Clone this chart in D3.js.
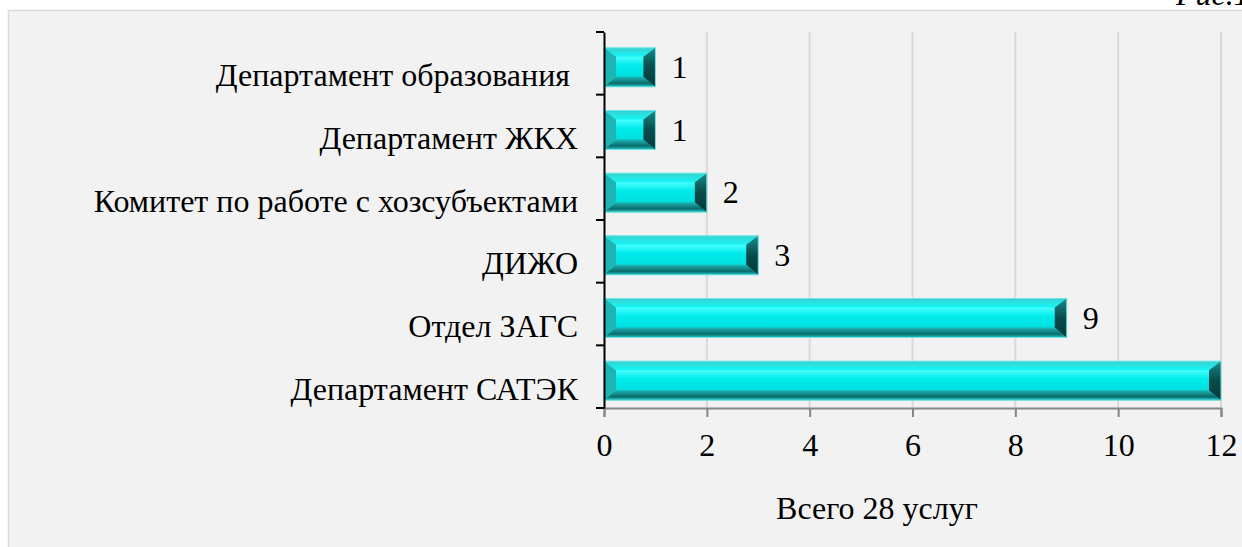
<!DOCTYPE html>
<html>
<head>
<meta charset="utf-8">
<script src="https://cdn.jsdelivr.net/npm/d3@7"></script>
<style>
  html, body { margin: 0; padding: 0; background: #fff; }
</style>
</head>
<body>
<svg width="1242" height="547"></svg>
<script>
// Chart data (top to bottom as drawn)
const departments = [
    "Департамент образования ",
    "Департамент ЖКХ",
    "Комитет по работе с хозсубъектами",
    "ДИЖО",
    "Отдел ЗАГС",
    "Департамент САТЭК"
];
const serviceCounts = [1, 1, 2, 3, 9, 12];
const xTicks = [0, 2, 4, 6, 8, 10, 12];
const axisTitle = "Всего 28 услуг";
const figureLabel = "Рис.1";

const svg = d3.select("svg");
const fontFamily = '"Liberation Serif"';
const fontSize = 32;

// page label, partly above the top edge (as in the scanned page)
svg.append("text")
    .attr("x", 1176)
    .attr("y", 5)
    .attr("font-size", fontSize)
    .attr("font-style", "italic")
    .style("font-family", fontFamily)
    .text(figureLabel);

// chart area background
svg.append("rect")
    .attr("x", 8.5).attr("y", 10.5)
    .attr("width", 1250).attr("height", 560)
    .attr("fill", "#f2f2f2")
    .attr("stroke", "#d9d9d9")
    .attr("stroke-width", 1.5);

const plot = {left: 604, right: 1221, top: 32, bottom: 408};

const xScale = d3.scaleLinear()
    .domain([0, 12])
    .range([plot.left, plot.right]);

const yScale = d3.scaleBand()
    .domain(departments)
    .range([plot.top, plot.bottom])
    .padding(0);

// vertical grid lines
svg.append("g")
    .selectAll("line")
    .data(xTicks.slice(1))
    .join("line")
    .attr("x1", d => xScale(d)).attr("x2", d => xScale(d))
    .attr("y1", plot.top).attr("y2", plot.bottom)
    .attr("stroke", "#d9d9d9")
    .attr("stroke-width", 2);

// x axis
const xAxis = svg.append("g")
    .attr("transform", `translate(0,${plot.bottom})`)
    .call(d3.axisBottom(xScale).tickValues(xTicks).tickSize(9).tickPadding(16));
xAxis.attr("font-family", null);
xAxis.select(".domain").attr("stroke", "#868686").attr("stroke-width", 2);
xAxis.selectAll(".tick line").attr("stroke", "#868686").attr("stroke-width", 2);
xAxis.selectAll(".tick text")
    .attr("font-size", fontSize)
    .attr("fill", "#000")
    .style("font-family", fontFamily);

svg.append("text")
    .attr("x", 877)
    .attr("y", 519)
    .attr("text-anchor", "middle")
    .attr("font-size", fontSize)
    .style("font-family", fontFamily)
    .text(axisTitle);

// bars with bevelled look
const defs = svg.append("defs");
function addGrad(id, stops) {
    const gr = defs.append("linearGradient")
        .attr("id", id).attr("x1", 0).attr("y1", 0).attr("x2", 0).attr("y2", 1);
    stops.forEach(([o, c]) => gr.append("stop").attr("offset", o).attr("stop-color", c));
}
addGrad("faceGrad", [["0%", "#22f4f4"], ["22%", "#4dffff"], ["45%", "#00ebeb"], ["100%", "#00d4d4"]]);
addGrad("topGrad", [["0%", "#3ad0d0"], ["100%", "#14f6f6"]]);
addGrad("bottomGrad", [["0%", "#1eb6b6"], ["65%", "#0b6b6b"], ["100%", "#22c8c8"]]);
addGrad("rightGrad", [["0%", "#178a8a"], ["50%", "#0a4a4a"], ["100%", "#06393a"]]);

const barH = 39;
const barShift = 4;
const bevel = 12;

const bars = svg.append("g")
    .selectAll("g")
    .data(departments.map((name, i) => ({name, value: serviceCounts[i]})))
    .join("g")
    .attr("transform", d => `translate(0,${yScale(d.name) + (yScale.bandwidth() - barH) / 2 + barShift})`);

bars.each(function(d) {
    const g = d3.select(this);
    const x0 = xScale(0), x1 = xScale(d.value), h = barH, b = bevel;
    const bt = 9, bb = 10;
    g.append("rect")
        .attr("x", x0).attr("y", 0)
        .attr("width", x1 - x0).attr("height", h)
        .attr("fill", "url(#faceGrad)");
    g.append("path")
        .attr("d", `M${x0},0 L${x1},0 L${x1 - b},${bt} L${x0 + b},${bt} Z`)
        .attr("fill", "url(#topGrad)");
    g.append("path")
        .attr("d", `M${x0},${h} L${x1},${h} L${x1 - b},${h - bb} L${x0 + b},${h - bb} Z`)
        .attr("fill", "url(#bottomGrad)");
    g.append("path")
        .attr("d", `M${x0},0 L${x0 + b},${bt} L${x0 + b},${h - bb} L${x0},${h} Z`)
        .attr("fill", "#1fb4b4");
    g.append("path")
        .attr("d", `M${x1},0 L${x1 - b},${bt} L${x1 - b},${h - bb} L${x1},${h} Z`)
        .attr("fill", "url(#rightGrad)");
    g.append("rect")
        .attr("x", x0).attr("y", 0)
        .attr("width", x1 - x0).attr("height", h)
        .attr("fill", "none")
        .attr("stroke", "#6fe4e4")
        .attr("stroke-width", 1);
});

// value labels (the one past the plot edge is cut off in the original)
bars.filter(d => xScale(d.value) + 40 < 1242)
    .append("text")
    .attr("x", d => xScale(d.value) + 16)
    .attr("y", barH / 2)
    .attr("dy", "0.33em")
    .attr("font-size", fontSize)
    .style("font-family", fontFamily)
    .text(d => d.value);

// y axis
const yAxis = svg.append("g")
    .attr("transform", `translate(${plot.left},0)`)
    .call(d3.axisLeft(yScale).tickSize(0).tickPadding(26));
yAxis.attr("font-family", null);
yAxis.select(".domain").attr("stroke", "#000").attr("stroke-width", 2);
yAxis.selectAll(".tick text")
    .attr("font-size", fontSize)
    .attr("fill", "#000")
    .attr("dy", "0.72em")
    .style("white-space", "pre")
    .style("font-family", fontFamily);

// y tick marks at band edges
svg.append("g")
    .selectAll("line")
    .data(departments.map(d => yScale(d)).concat([plot.bottom]))
    .join("line")
    .attr("x1", plot.left - 8).attr("x2", plot.left)
    .attr("y1", d => d).attr("y2", d => d)
    .attr("stroke", "#000")
    .attr("stroke-width", 2);
</script>
</body>
</html>
